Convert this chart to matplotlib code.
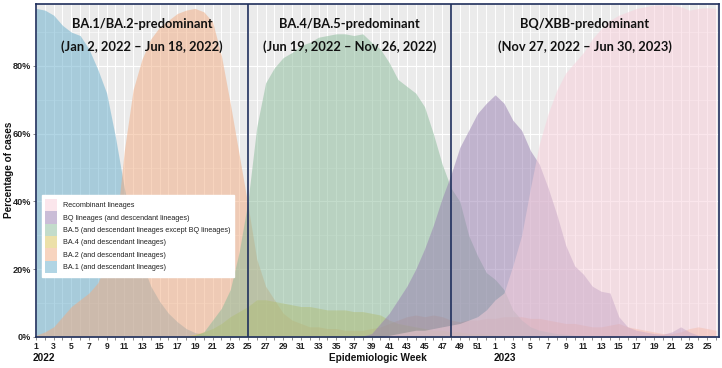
import matplotlib
matplotlib.use("Agg")
import matplotlib.pyplot as plt
import matplotlib.transforms as mtransforms
import numpy as np

# ---------------- data ----------------
week_labels = list(range(1, 53)) + list(range(1, 27))   # 2022 wk1-52, 2023 wk1-26

ba1 = [97, 96.5, 95, 92, 90, 89, 85, 79, 72, 59,
       44, 32, 22, 15, 10.5, 7, 4.5, 2.5, 1.3, 0.8,
       0.5, 0.3, 0.2, 0.1, 0.1] + [0] * 53

ba2 = [0.5, 1.5, 3, 6, 9, 11, 13, 16, 22, 30,
       55, 73, 82, 88, 91.5, 93.5, 95.5, 96.5, 97, 96,
       93, 83, 69, 54, 39, 23, 15, 11, 7, 5,
       4, 3, 3, 2.5, 2.5, 2, 2, 2, 2.5, 3,
       4, 5, 6, 6.5, 6, 6.5, 6, 5, 4.5, 5,
       5, 5.5, 5.5, 6, 6, 6, 5.5, 5.5, 5, 4.5,
       4, 4, 3.5, 3, 3, 3.5, 4, 3, 2.5, 2,
       1.5, 1, 1, 1.5, 2.5, 3, 2.5, 2]

ba4 = [0] * 17 + [0.3, 0.8, 1.5, 2.5, 4, 6, 7.5, 9, 11,
                  11, 10.5, 10, 9.5, 9, 9, 8.5, 8, 8, 8,
                  7.5, 7.5, 7, 6.5, 5, 4, 3.5, 3, 2.5, 2,
                  2, 1.5, 1.5, 1, 1, 0.8, 0.6, 0.5, 0.4, 0.3,
                  0.2] + [0] * 21

ba5 = [0] * 18 + [0.5, 1.5, 5, 8.5, 14, 25, 40, 62,
                  75, 79.5, 82.5, 84, 86, 87, 88.5, 89, 89.5, 89.5,
                  89, 89.5, 87, 85, 81, 76, 74, 72, 68, 60,
                  51, 44, 40, 30, 24, 19, 17, 14, 8, 5,
                  3, 2, 1.5, 1, 0.8, 0.5, 0.4, 0.3, 0.2, 0.2,
                  0.1, 0.1, 0.1, 0.1, 0.1, 0.1, 0.1, 0.1, 0.1, 0.1,
                  0.1, 0.1]

bq = [0] * 37 + [0.3, 1, 4, 7, 11, 15, 20, 26, 33,
                 41, 48, 56, 61, 66, 69, 71.5, 69, 64, 61,
                 55, 51, 44, 36, 27, 21, 18.5, 15, 13.5, 13,
                 6, 3, 2, 1.5, 1, 0.8, 1.5, 3, 1.5, 0.5,
                 0.3, 0.2]

recomb = [0] * 40 + [0.5, 1, 1.5, 2, 2, 2.5, 3, 3.5, 4, 5,
                     6, 8, 11, 13, 21, 30, 44, 57, 66, 73,
                     78, 81, 84, 88, 91, 93.5, 95, 96, 97, 97.5,
                     98, 98, 98, 97.5, 96.5, 97, 97.2, 97]

series_names = ["Recombinant lineages",
                "BQ lineages (and descendant lineages)",
                "BA.5 (and descendant lineages except BQ lineages)",
                "BA.4 (and descendant lineages)",
                "BA.2 (and descendant lineages)",
                "BA.1 (and descendant lineages)"]
series_values = [recomb, bq, ba5, ba4, ba2, ba1]
series_colors = ["#F9CFDB", "#977DB1", "#88BA98", "#DBC355", "#F1AB80", "#65ADCB"]

period_titles = ["BA.1/BA.2-predominant", "BA.4/BA.5-predominant", "BQ/XBB-predominant"]
period_dates = ["(Jan 2, 2022 \u2013 Jun 18, 2022)",
                "(Jun 19, 2022 \u2013 Nov 26, 2022)",
                "(Nov 27, 2022 \u2013 Jun 30, 2023)"]
period_breaks = [24, 47]   # index of week 25 and week 48 (2022)

y_ticks = [0, 20, 40, 60, 80]

# ---------------- plot ----------------
W, H = 722, 368
fig = plt.figure(figsize=(W / 100, H / 100), dpi=100)
ax = fig.add_axes([36 / W, 1 - 337 / H, (719 - 36) / W, (337 - 4) / H])

x = np.arange(len(week_labels))
ax.set_facecolor("#EBEBEB")
ax.set_axisbelow(True)

for name, vals, col in zip(series_names[::-1], series_values[::-1], series_colors[::-1]):
    ax.fill_between(x, 0, vals, color=col, alpha=0.5, linewidth=0, label=name, zorder=2)

x_right = 77.35
ax.set_xlim(0, x_right)
ax.set_ylim(0, 98.3)

ax.set_xticks(x)
ax.set_xticklabels([str(w) if w % 2 == 1 else "" for w in week_labels],
                   fontsize=6.2, fontweight="bold", family="Liberation Sans", color="#222222")
ax.set_yticks(y_ticks)
ax.set_yticklabels([f"{v}%" for v in y_ticks], fontsize=6.6, fontweight="bold",
                   family="Liberation Sans", color="#222222")
ax.set_yticks([10, 30, 50, 70, 90], minor=True)
ax.tick_params(axis="x", length=2, width=0.6, color="#777777", pad=1.5)
ax.tick_params(axis="y", length=2, width=0.6, color="#777777", pad=1.5)
ax.tick_params(axis="y", which="minor", length=0)

ax.grid(True, axis="x", color="white", linewidth=0.7)
ax.grid(True, axis="y", which="major", color="white", linewidth=0.8)
ax.grid(True, axis="y", which="minor", color="white", linewidth=0.4)

navy = "#1F2F5C"
for s in ax.spines.values():
    s.set_color(navy)
    s.set_linewidth(1.2)
for b in period_breaks:
    ax.axvline(b, color=navy, linewidth=1.2, zorder=4)

# period titles
blend = mtransforms.blended_transform_factory(ax.transData, fig.transFigure)
bounds = [0] + period_breaks + [x_right]
for i in range(3):
    cx = (bounds[i] + bounds[i + 1]) / 2
    ax.text(cx, 1 - 24 / H, period_titles[i], transform=blend,
            ha="center", va="center", fontsize=9.3, fontweight="bold", family="Lato",
            color="#111111", zorder=6)
    ax.text(cx, 1 - 47 / H, period_dates[i], transform=blend,
            ha="center", va="center", fontsize=9.3, fontweight="bold", family="Lato",
            color="#111111", zorder=6)

# axis labels
fig.text(9 / W, 1 - 170 / H, "Percentage of cases", rotation=90, ha="center", va="center",
         fontsize=7.2, fontweight="bold", family="Liberation Sans", color="#111111")
fig.text(377.5 / W, 1 - 358 / H, "Epidemiologic Week", ha="center", va="center",
         fontsize=7.2, fontweight="bold", family="Liberation Sans", color="#111111")
fig.text(33 / W, 1 - 358 / H, "2022", ha="left", va="center",
         fontsize=7.2, fontweight="bold", family="Liberation Sans", color="#111111")
fig.text(494 / W, 1 - 358 / H, "2023", ha="left", va="center",
         fontsize=7.2, fontweight="bold", family="Liberation Sans", color="#111111")

# legend (order as in reference)
handles, labels = ax.get_legend_handles_labels()
order = [labels.index(n) for n in series_names]
leg = ax.legend([handles[i] for i in order], [labels[i] for i in order],
                loc="upper left", bbox_to_anchor=((41.5 - 36) / 683, (337 - 195) / 333),
                prop={"family": "Liberation Sans", "size": 5.2},
                frameon=True, fancybox=False, framealpha=1, edgecolor="white",
                facecolor="white", handlelength=1.65, handleheight=2.25,
                labelspacing=0.0, handletextpad=0.75, borderpad=0.55, borderaxespad=0)
leg.set_zorder(7)
for t in leg.get_texts():
    t.set_color("#222222")

fig.savefig("out.png", dpi=100)
